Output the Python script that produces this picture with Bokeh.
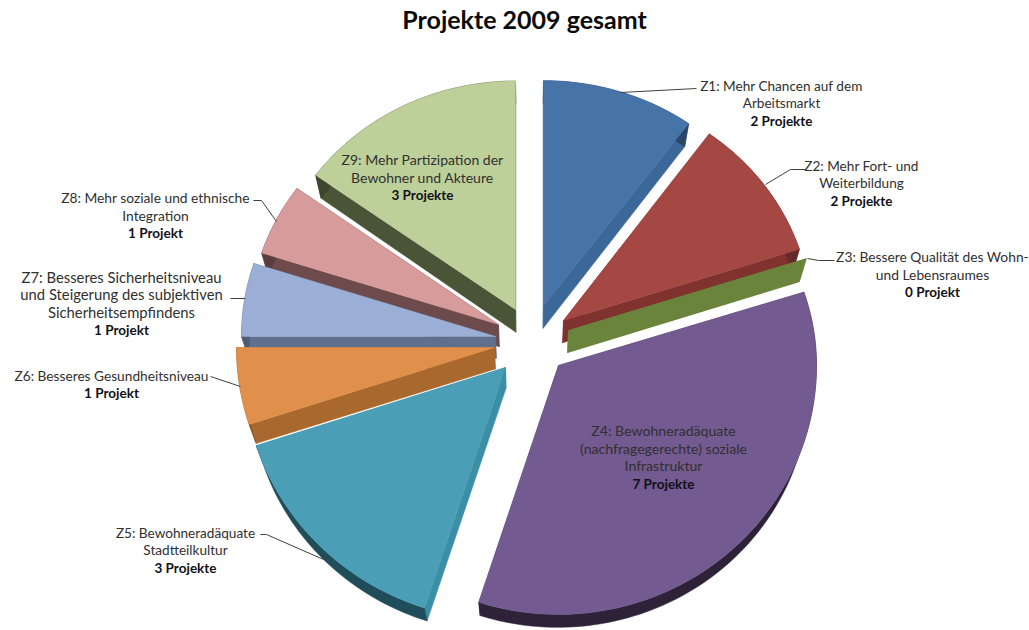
import numpy as np
from bokeh.plotting import figure
from bokeh.models import Range1d
from bokeh.core.properties import value
from bokeh.embed import file_html
from bokeh.resources import INLINE

# --- data
title = "Projekte 2009 gesamt"
slices = ["Z1", "Z2", "Z3", "Z4", "Z5", "Z6", "Z7", "Z8", "Z9"]
projects = [2, 2, 0, 7, 3, 1, 1, 1, 3]
label_text = [
    ["Z1: Mehr Chancen auf dem", "Arbeitsmarkt"],
    ["Z2: Mehr Fort- und", "Weiterbildung"],
    ["Z3: Bessere Qualität des Wohn-", "und Lebensraumes"],
    ["Z4: Bewohneradäquate", "(nachfragegerechte) soziale", "Infrastruktur"],
    ["Z5: Bewohneradäquate", "Stadtteilkultur"],
    ["Z6: Besseres Gesundheitsniveau"],
    ["Z7: Besseres Sicherheitsniveau", "und Steigerung des subjektiven", "Sicherheitsempfindens"],
    ["Z8: Mehr soziale und ethnische", "Integration"],
    ["Z9: Mehr Partizipation der", "Bewohner und Akteure"],
]
count_text = ["2 Projekte", "2 Projekte", "0 Projekt", "7 Projekte", "3 Projekte",
              "1 Projekt", "1 Projekt", "1 Projekt", "3 Projekte"]

# --- styling and layout
top_col = ["#4673a8", "#a54844", "#89a54e", "#735a90", "#4a9fb7", "#e0904a", "#9bafd6", "#d89b9b", "#bdd09a"]
cut_col = ["#3b6899", "#80322f", "#6a843c", "#4d3c62", "#3a8ea6", "#a9682d", "#5f6f8c", "#6d4a4b", "#4a5436"]
rim_col = ["#2a4568", "#662a28", "#50642d", "#2e2238", "#1f4d5a", "#8a5526", "#4e5c75", "#5a3d3e", "#3d462c"]
apex_x = [543, 563, 568, 558, 505, 494, 495, 498, 515]
apex_y = [305, 320, 330, 365, 367, 347, 336, 324, 309]
radius = [247, 248, 250, 258, 262, 258, 254, 249, 247]
k_up = [0.91, 0.93, 0.93, 0.92, 0.93, 0.93, 0.93, 0.93, 0.925]
label_x = [781, 861, 932, 663, 185, 111, 121, 155, 422]
label_y = [85, 165, 256, 430, 532, 375, 276, 197, 159]
label_px = [13.6, 13.6, 13.8, 14.1, 13.6, 13.7, 14.8, 13.8, 14.0]
paint_order = [0, 1, 2, 8, 7, 6, 5, 4, 3]
leaders = [
    ([620, 696], [92, 88]),
    ([765, 790, 805], [184, 169, 169]),
    ([807, 818, 834], [258, 260, 260]),
    ([260, 266, 323], [534, 534, 559]),
    ([210, 240], [376, 386]),
    ([230, 245], [298, 298]),
    ([253, 261, 276], [200, 200, 221]),
]
LINE_STEP = 17.7
FONT = value("Lato")

W, H = 1029, 630
p = figure(width=W, height=H, output_backend="svg", toolbar_location=None,
           x_range=Range1d(0, W), y_range=Range1d(H, 0), min_border=0,
           outline_line_color=None, background_fill_color="white")
p.axis.visible = False
p.grid.visible = False


def rim_point(ax, ay, r, theta, up):
    k = np.where(np.cos(theta) >= 0, up, 0.965)
    return ax + r * np.sin(theta), ay - r * k * np.cos(theta)


def drop(x, y):
    """The point below (x, y) on the underside of the pie."""
    d = 23 - 10 * np.clip(y - 300, 0, None) / 310
    return x + (528 - x) * 0.025, y + d


totals = np.cumsum([0] + projects) / sum(projects) * 2 * np.pi
for i in paint_order:
    t0, t1 = totals[i], totals[i + 1]
    ax, ay = float(apex_x[i]), float(apex_y[i])
    th = np.linspace(t0, t1, max(2, int(projects[i] * 12) + 2))
    xs, ys = rim_point(ax, ay, radius[i], th, k_up[i])
    # radial cut faces
    for ex, ey in ((xs[0], ys[0]), (xs[-1], ys[-1])):
        bx0, by0 = drop(ax, ay)
        bx1, by1 = drop(ex, ey)
        p.patch([ax, ex, bx1, bx0], [ay, ey, by1, by0], fill_color=cut_col[i], line_color=cut_col[i], line_width=0.5)
    if projects[i] > 0:
        bx, by = drop(xs, ys)
        p.patch(list(xs) + list(bx[::-1]), list(ys) + list(by[::-1]),
                fill_color=rim_col[i], line_color=rim_col[i], line_width=0.5)
        p.patch([ax] + list(xs), [ay] + list(ys), fill_color=top_col[i], line_color=top_col[i], line_width=0.5)

for lx, ly in leaders:
    p.line(lx, ly, line_color="#404040", line_width=1)

for i in range(len(slices)):
    lines = label_text[i]
    ys = [label_y[i] + j * LINE_STEP for j in range(len(lines) + 1)]
    p.text([label_x[i]] * len(lines), ys[:-1], text=lines, text_font=FONT, text_font_size=f"{label_px[i]}px",
           text_color="#303030", text_align="center", text_baseline="middle")
    p.text([label_x[i]], [ys[-1]], text=[count_text[i]], text_font=FONT, text_font_size="13.5px",
           text_font_style="bold", text_color="#101018", text_align="center", text_baseline="middle")

p.text([524], [18], text=[title], text_font=FONT, text_font_size="25px", text_font_style="bold",
       text_color="#0a0a0a", text_align="center", text_baseline="middle")

open("out.html", "w").write(file_html(p, INLINE))
